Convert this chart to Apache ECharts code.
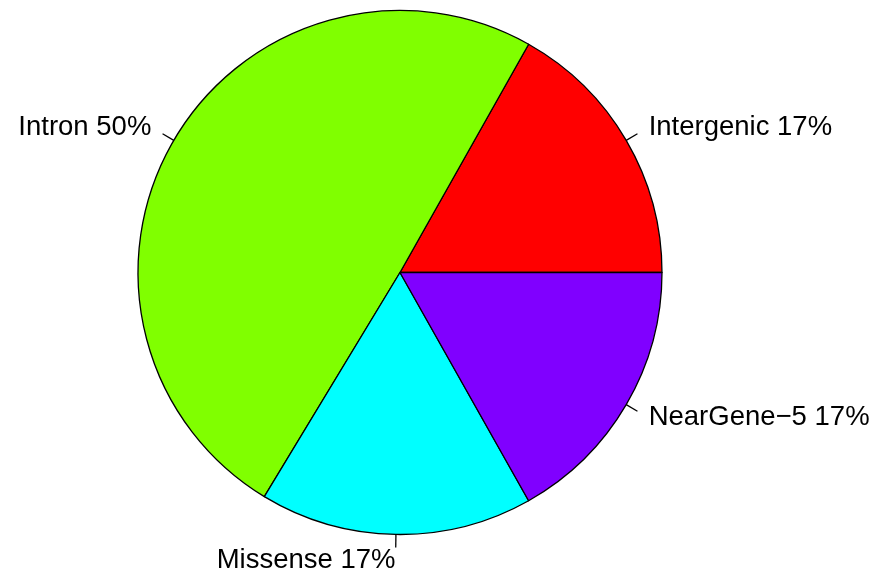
<!DOCTYPE html>
<html>
<head>
<meta charset="utf-8">
<style>
  html, body { margin: 0; padding: 0; background: #fff; }
  #chart { width: 882px; height: 578px; }
</style>
<script src="https://cdn.jsdelivr.net/npm/echarts@6/dist/echarts.min.js"></script>
</head>
<body>
<div id="chart"></div>
<script>
// slices, counter-clockwise from 3 o'clock like R's pie()
const categories = ['Intergenic', 'Intron', 'Missense', 'NearGene\u22125'];
const values = [17, 50, 17, 17];
const percentLabels = ['17%', '50%', '17%', '17%'];
const sliceColors = ['#FF0000', '#80FF00', '#00FFFF', '#8000FF'];

window.onload = function () {
    let myChart = echarts.init(document.querySelector('#chart'));
    let pieData = categories.map((name, i) => ({
        name: name,
        value: values[i],
        itemStyle: { color: sliceColors[i] }
    }));

    let option = {
        animation: false,
        series: [{
            type: 'pie',
            center: [400, 272.5],
            radius: 262,
            startAngle: 0,
            clockwise: false,
            avoidLabelOverlap: false,
            data: pieData,
            itemStyle: {
                borderColor: '#000',
                borderWidth: 1.3
            },
            label: {
                show: true,
                position: 'outside',
                formatter: (p) => p.name + ' ' + percentLabels[p.dataIndex],
                color: '#000',
                fontFamily: '"Liberation Sans", Arial, sans-serif',
                fontSize: 27.5,
                distanceToLabelLine: 0
            },
            labelLine: {
                show: true,
                length: 13,
                length2: 0,
                lineStyle: { color: '#000', width: 1.3 }
            },
            // text sits at 1.1 * radius along the slice middle, as R does
            labelLayout: function (params) {
                let pts = params.labelLinePoints;
                if (!pts) return {};
                let x = pts[0][0] + 2 * (pts[1][0] - pts[0][0]);
                let y = pts[0][1] + 2 * (pts[1][1] - pts[0][1]);
                return {
                    x: x,
                    y: y,
                    align: (pts[1][0] - pts[0][0]) < 0 ? 'right' : 'left',
                    verticalAlign: 'middle',
                    labelLinePoints: pts
                };
            },
            emphasis: { disabled: true }
        }]
    };
    myChart.setOption(option);
}
</script>
</body>
</html>
